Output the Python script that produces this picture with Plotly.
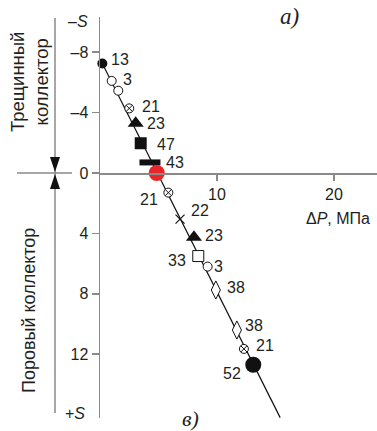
import plotly.graph_objects as go

# ---- data ----
dp_values = [0.2, 1.0, 1.56, 2.5, 3.05, 3.48, 4.27, 4.85, 5.84, 6.84, 8.03, 8.4, 9.2, 9.9, 11.7, 12.3, 13.1]
s_values = [-7.25, -6.1, -5.45, -4.28, -3.3, -1.97, -0.7, 0.0, 1.3, 3.05, 4.26, 5.5, 6.2, 7.75, 10.4, 11.65, 12.7]
point_labels = ["13", "3", "", "21", "23", "47", "43", "", "21", "22", "23", "33", "3", "38", "38", "21", "52"]
trend_x = [0.2, 15.4]
trend_y = [-7.25, 16.2]
y_tickvals = [-8, -4, 0, 4, 8, 12]
y_ticktext = ["\u20138", "\u20134", "0", "4", "8", "12"]
x_tickvals = [10, 20]
x_ticktext = ["10", "20"]

# ---- styles ----
symbols = ["circle", "circle", "circle", "circle-x", "triangle-up", "square", "line-ew", "circle",
           "circle-x", "x-thin", "triangle-up", "square", "circle", "diamond-tall", "diamond-tall",
           "circle-x", "circle"]
sizes = [10, 9, 9, 9, 14, 12, 15, 16, 9, 9, 14, 11, 9, 13, 13, 9, 16]
fills = ["#111111", "white", "white", "white", "#111111", "#111111", "#111111", "#e8262a",
         "white", "#111111", "#111111", "white", "white", "white", "white", "white", "#111111"]
line_colors = ["#111111", "#111111", "#111111", "#111111", "#111111", "#111111", "#111111", "#e8262a",
               "#111111", "#111111", "#111111", "#111111", "#111111", "#111111", "#111111", "#111111", "#111111"]
line_widths = [0, 1, 1, 1, 0, 0, 6, 0, 1, 1.2, 0, 1, 1, 1, 1, 1, 0]
label_dx = [18, 16, 0, 22, 20, 25, 25, 0, -19, 20, 20, -21, 11, 20, 17, 21, -21]
label_dy = [-4, -1, 0, -2, 0, 1, 0, 0, 7, -9, -2, 4, 0, -3, -5, -3, 9]

W, H = 377, 431
TXT = "#231f20"
AX = "#8a8a8a"
FONT = "Liberation Sans, Arial, sans-serif"
SERIF = "Liberation Serif, Times New Roman, serif"


def px(x):
    return x / W


def py(y):
    return 1 - y / H


fig = go.Figure()
fig.add_trace(go.Scatter(x=trend_x, y=trend_y, mode="lines",
                         line=dict(color="#111111", width=1.2), hoverinfo="skip",
                         cliponaxis=False))
fig.add_trace(go.Scatter(x=dp_values, y=s_values, mode="markers", cliponaxis=False,
                         hoverinfo="skip",
                         marker=dict(symbol=symbols, size=sizes, color=fills, opacity=1,
                                     line=dict(color=line_colors, width=line_widths))))

annotations = []
for xv, yv, t, dx, dy in zip(dp_values, s_values, point_labels, label_dx, label_dy):
    if t:
        annotations.append(dict(x=xv, y=yv, text=t, showarrow=False, xshift=dx, yshift=-dy,
                                xanchor="center", yanchor="middle",
                                font=dict(size=16, color=TXT, family=FONT)))


def ptext(x, y, text, size=16, family=FONT, angle=0):
    return dict(xref="paper", yref="paper", x=px(x), y=py(y), text=text, showarrow=False,
                xanchor="center", yanchor="middle", textangle=angle,
                font=dict(size=size, color=TXT, family=family))


annotations += [
    ptext(78, 22, "\u2013<i>S</i>"),
    ptext(75, 413, "+<i>S</i>"),
    ptext(338, 218, "\u0394<i>P</i>, МПа"),
    ptext(289, 17, "<i>а)</i>", size=23, family=SERIF),
    ptext(190, 418, "<i>в)</i>", size=22, family=SERIF),
    ptext(29, 82, "Трещинный<br>коллектор", size=18.5, angle=-90),
    ptext(29, 311, "Поровый коллектор", size=18, angle=-90),
]

shapes = [
    # left horizontal segment at S = 0
    dict(type="line", xref="paper", yref="paper", x0=px(17), x1=px(72), y0=py(173), y1=py(173),
         line=dict(color=AX, width=1.5)),
    # left vertical divider
    dict(type="line", xref="paper", yref="paper", x0=px(55), x1=px(55), y0=py(18), y1=py(413),
         line=dict(color=AX, width=1.5)),
    # arrowheads
    dict(type="path", xref="paper", yref="paper",
         path=f"M {px(50)} {py(157)} L {px(60)} {py(157)} L {px(55)} {py(172)} Z",
         fillcolor="#111111", line=dict(width=0)),
    dict(type="path", xref="paper", yref="paper",
         path=f"M {px(50)} {py(189)} L {px(60)} {py(189)} L {px(55)} {py(174)} Z",
         fillcolor="#111111", line=dict(width=0)),
]

fig.update_layout(
    width=W, height=H, margin=dict(l=0, r=0, t=0, b=0),
    paper_bgcolor="white", plot_bgcolor="white", showlegend=False,
    annotations=annotations, shapes=shapes,
    xaxis=dict(domain=[100 / W, 1], range=[0, 277 / 11.7], anchor="free", position=py(173),
               showline=True, linecolor=AX, linewidth=1.5, ticks="outside", ticklen=6,
               tickcolor=AX, tickwidth=1.5, tickvals=x_tickvals, ticktext=x_ticktext,
               showgrid=False, zeroline=False,
               tickfont=dict(size=16, color=TXT, family=FONT)),
    yaxis=dict(domain=[py(418), py(17)], range=[(418 - 173) / 15.1, (17 - 173) / 15.1],
               anchor="x", side="left",
               showline=True, linecolor=AX, linewidth=1.5, ticks="outside", ticklen=7,
               tickcolor=AX, tickwidth=1.5, tickvals=y_tickvals, ticktext=y_ticktext,
               showgrid=False, zeroline=False,
               tickfont=dict(size=16, color=TXT, family=FONT)),
)

fig.write_html("out.html", config={"displayModeBar": False, "staticPlot": True},
               post_script="document.body.style.margin='0px';")
